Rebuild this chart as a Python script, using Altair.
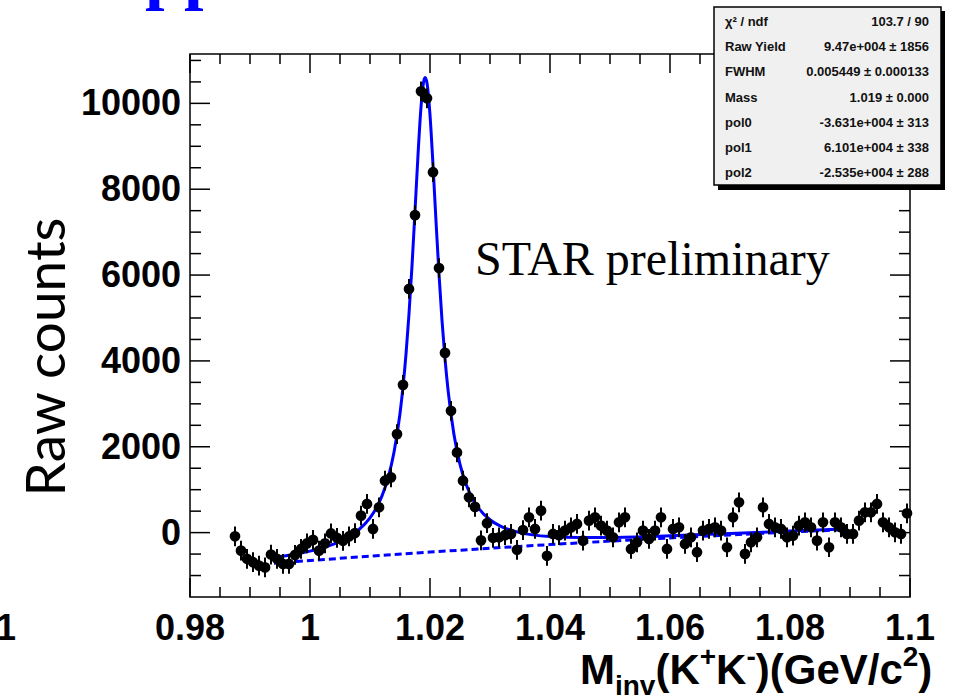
import altair as alt
import pandas as pd

# ---------------- data ----------------
BIN_FIRST = 0.9875          # centre of first visible bin (GeV/c^2)
BIN_WIDTH = 0.001
counts = [
    -85, -420, -610, -690, -770, -810, -510, -610, -730, -730,
    -520, -380, -250, -170, -420, -250, -20, -120, -190, -90,
    -10, 395, 667, 85, 589, 1209, 1287, 2295, 3442, 5676,
    7397, 10281, 10118, 8397, 6164, 4187, 2838, 1868, 1209, 822,
    600, -180, 220, -120, -109, -60, -31, -400, 60, 357,
    85, 512, -540, -31, -60, 47, 120, 202, -186, 279,
    357, 163, 47, -109, 240, 357, -380, -225, 47, -147,
    47, 357, -380, 85, 124, -264, -109, -457, 47, 85,
    124, 47, -341, 357, 706, -496, -225, -109, 589, 202,
    124, 85, -109, -70, 163, 240, 124, -186, 240, -341,
    240, 124, -31, -31, 279, 473, 473, 667, 240, 124,
    8, -31, 450,
]
COUNT_ERR = 230

fit_mass = [0.994, 0.997, 1.000, 1.003, 1.006, 1.008, 1.010, 1.011, 1.012, 1.013,
            1.014, 1.015, 1.0155, 1.016, 1.0165, 1.017, 1.0175, 1.018, 1.0185, 1.019,
            1.0192, 1.0195, 1.020, 1.0205, 1.021, 1.0215, 1.022, 1.0225, 1.023, 1.024,
            1.025, 1.026, 1.027, 1.028, 1.030, 1.032, 1.035, 1.040, 1.045, 1.050,
            1.060, 1.070, 1.080, 1.089]
fit_counts = [-585, -517, -432, -315, -137, 49, 343, 560, 856, 1270,
              1872, 2776, 3394, 4158, 5096, 6216, 7487, 8794, 9912, 10541,
              10602, 10473, 9732, 8563, 7258, 6020, 4945, 4053, 3331, 2279,
              1592, 1131, 813, 586, 299, 134, -1, -92, -115, -112,
              -74, -21, 35, 84]

bkg_mass = [0.994, 1.0, 1.01, 1.02, 1.03, 1.04, 1.05, 1.06, 1.07, 1.08, 1.089]
bkg_counts = [-713, -650, -549, -454, -364, -278, -198, -123, -53, 13, 67]

x_major = [0.98, 1.0, 1.02, 1.04, 1.06, 1.08, 1.1]
x_labels = ["0.98", "1", "1.02", "1.04", "1.06", "1.08", "1.1"]
x_minor = [0.985, 0.99, 0.995, 1.005, 1.01, 1.015, 1.025, 1.03, 1.035,
           1.045, 1.05, 1.055, 1.065, 1.07, 1.075, 1.085, 1.09, 1.095]
y_major = [0, 2000, 4000, 6000, 8000, 10000]
y_labels = ["0", "2000", "4000", "6000", "8000", "10000"]
y_minor = [-1000, -500, 500, 1000, 1500, 2500, 3000, 3500, 4500, 5000, 5500,
           6500, 7000, 7500, 8500, 9000, 9500, 10500, 11000]

stat_labels = ["\u03c7\u00b2 / ndf", "Raw Yield", "FWHM", "Mass", "pol0", "pol1", "pol2"]
stat_values = ["103.7 / 90", "9.47e+004 \u00b1 1856", "0.005449 \u00b1 0.000133",
               "1.019 \u00b1 0.000", "-3.631e+004 \u00b1 313", "6.101e+004 \u00b1 338",
               "-2.535e+004 \u00b1 288"]

# ---------------- layout ----------------
W, H = 720, 543
PL, PT = 190, 54
BLUE = "#0000ff"
SANS = "Liberation Sans"

xs = alt.Scale(domain=[0.98, 1.1], nice=False, zero=False)
ys = alt.Scale(domain=[-1500, 11150], nice=False, zero=False)

df = pd.DataFrame({
    "mass": [BIN_FIRST + BIN_WIDTH * i for i in range(len(counts))],
    "counts": counts,
})
fit_df = pd.DataFrame({"mass": fit_mass, "counts": fit_counts})
bkg_df = pd.DataFrame({"mass": bkg_mass, "counts": bkg_counts})


def px(x):
    return x - PL


def py(y):
    return y - PT


def text(t, x, y, **kw):
    return alt.Chart(pd.DataFrame({"t": [t]})).mark_text(**kw).encode(
        x=alt.value(px(x)), y=alt.value(py(y)), text="t:N")


def xticks(values, length):
    d = pd.DataFrame({"v": values})
    bot = alt.Chart(d).mark_rule(color="black", strokeWidth=1.5).encode(
        x=alt.X("v:Q", scale=xs, axis=None), y=alt.value(H), y2=alt.value(H - length))
    top = alt.Chart(d).mark_rule(color="black", strokeWidth=1.5).encode(
        x=alt.X("v:Q", scale=xs, axis=None), y=alt.value(0), y2=alt.value(length))
    return [bot, top]


def yticks(values, length):
    d = pd.DataFrame({"v": values})
    left = alt.Chart(d).mark_rule(color="black", strokeWidth=1.5).encode(
        y=alt.Y("v:Q", scale=ys, axis=None), x=alt.value(0), x2=alt.value(length))
    right = alt.Chart(d).mark_rule(color="black", strokeWidth=1.5).encode(
        y=alt.Y("v:Q", scale=ys, axis=None), x=alt.value(W), x2=alt.value(W - length))
    return [left, right]


layers = []
layers += xticks(x_major, 19) + xticks(x_minor, 10)
layers += yticks(y_major, 20) + yticks(y_minor, 11)

# tick labels (drawn through the shared scales)
x_lab = alt.Chart(pd.DataFrame({"v": x_major, "lab": x_labels})).mark_text(
    font=SANS, fontSize=36, fontWeight="bold", color="black", align="center",
    baseline="alphabetic").encode(
    x=alt.X("v:Q", scale=xs, axis=None), y=alt.value(py(640)), text="lab:N")
y_lab = alt.Chart(pd.DataFrame({"v": y_major, "lab": y_labels})).mark_text(
    font=SANS, fontSize=36, fontWeight="bold", color="black", align="right",
    baseline="middle", dy=1).encode(
    y=alt.Y("v:Q", scale=ys, axis=None), x=alt.value(px(181)), text="lab:N")
layers += [x_lab, y_lab]

bkg = alt.Chart(bkg_df).mark_line(color=BLUE, strokeWidth=3, strokeDash=[7, 4]).encode(
    x=alt.X("mass:Q", scale=xs, axis=None), y=alt.Y("counts:Q", scale=ys, axis=None))
fit = alt.Chart(fit_df).mark_line(color=BLUE, strokeWidth=3, interpolate="monotone").encode(
    x=alt.X("mass:Q", scale=xs, axis=None), y=alt.Y("counts:Q", scale=ys, axis=None))

base = alt.Chart(df).transform_calculate(
    lo=f"datum.counts - {COUNT_ERR}", hi=f"datum.counts + {COUNT_ERR}",
    xl=f"datum.mass - {BIN_WIDTH / 2}", xh=f"datum.mass + {BIN_WIDTH / 2}")
err_v = base.mark_rule(color="black", strokeWidth=2).encode(
    x=alt.X("mass:Q", scale=xs, axis=None), y=alt.Y("lo:Q", scale=ys, axis=None), y2="hi:Q")
err_h = base.mark_rule(color="black", strokeWidth=2).encode(
    x=alt.X("xl:Q", scale=xs, axis=None), x2="xh:Q", y=alt.Y("counts:Q", scale=ys, axis=None))
points = alt.Chart(df).mark_point(filled=True, shape="circle", size=115, color="black", opacity=1).encode(
    x=alt.X("mass:Q", scale=xs, axis=None),
    y=alt.Y("counts:Q", scale=ys, axis=None),
)

layers += [bkg, fit, err_v, err_h, points]

# annotations
layers.append(text("STAR preliminary", 475, 275, font="Liberation Serif", fontSize=48,
                   align="left", baseline="alphabetic", color="black"))
layers.append(text("Raw counts", 48, 357, font="Lato", fontSize=55, angle=270,
                   align="center", baseline="middle", color="black"))
layers.append(text("pp", 145, -4, font="Liberation Serif", fontSize=70, fontWeight="bold",
                   align="left", baseline="alphabetic", color=BLUE))
layers.append(text("1", 16, 640, font=SANS, fontSize=36, fontWeight="bold",
                   align="right", baseline="alphabetic", color="black"))

# x-axis title with sub/superscripts
ARIAL_BOLD = {"M": 833, "i": 278, "n": 611, "v": 556, "(": 333, ")": 333, "K": 722,
              "+": 584, "-": 333, "G": 778, "e": 556, "V": 667, "/": 278, "c": 556, "2": 556}
FS_MAIN, FS_SMALL = 42, 28
pieces = [("M", "m"), ("inv", "sub"), ("(K", "m"), ("+", "sup"), ("K", "m"), ("-", "sup"),
          (")(GeV/c", "m"), ("2", "sup"), (")", "m")]
cx = 580
BASE_Y = 684
for s, kind in pieces:
    fs = FS_MAIN if kind == "m" else FS_SMALL
    yy = BASE_Y + (11 if kind == "sub" else (-18 if kind == "sup" else 0))
    layers.append(text(s, cx, yy, font=SANS, fontSize=fs, fontWeight="bold",
                       align="left", baseline="alphabetic", color="black"))
    cx += sum(ARIAL_BOLD[ch] for ch in s) / 1000 * fs

# stats box
one = pd.DataFrame({"a": [0]})
layers.append(alt.Chart(one).mark_rect(fill="black").encode(
    x=alt.value(px(718)), x2=alt.value(px(945)), y=alt.value(py(11)), y2=alt.value(py(190))))
layers.append(alt.Chart(one).mark_rect(fill="#f0f0f0", stroke="black", strokeWidth=1.5).encode(
    x=alt.value(px(714)), x2=alt.value(px(941)), y=alt.value(py(7)), y2=alt.value(py(185))))
for i, (lab, val) in enumerate(zip(stat_labels, stat_values)):
    yy = 22 + 25.2 * i
    layers.append(text(lab, 725, yy, font=SANS, fontSize=13, fontWeight="bold",
                       align="left", baseline="middle", color="#111111"))
    layers.append(text(val, 929, yy, font=SANS, fontSize=13, fontWeight="bold",
                       align="right", baseline="middle", color="#111111"))

chart = alt.layer(*layers).properties(
    width=W, height=H,
    autosize=alt.AutoSizeParams(type="none"),
    padding={"left": PL, "top": PT, "right": 954 - PL - W, "bottom": 699 - PT - H},
    background="white",
).configure_view(stroke="black", strokeWidth=1.5)

chart.save("out.html", embed_options={"renderer": "svg", "actions": False})
